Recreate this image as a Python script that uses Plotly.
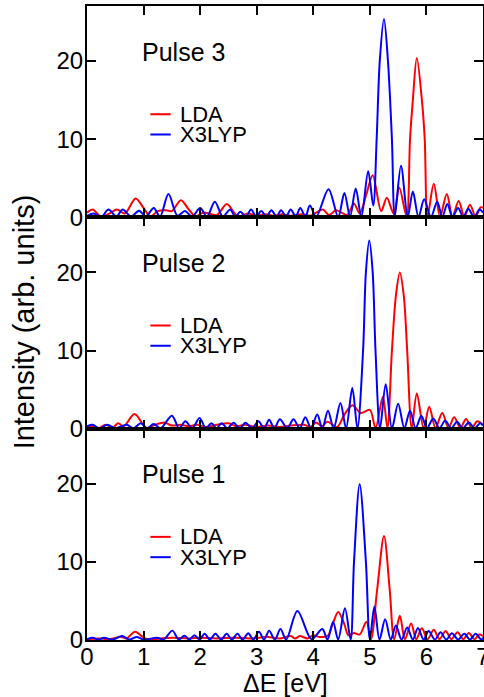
import plotly.graph_objects as go
from plotly.subplots import make_subplots

# ---------------- data ----------------
# Pulse 3 (top panel)
p3_lda_x = [0.0, 0.1, 0.25, 0.4, 0.53, 0.67, 0.86, 1.0, 1.12, 1.25, 1.4, 1.5, 1.66, 1.8, 1.92,
            2.05, 2.2, 2.3, 2.47, 2.6, 2.67, 2.85, 3.0, 3.15, 3.3, 3.45, 3.6, 3.8, 3.95, 4.05,
            4.17, 4.28, 4.4, 4.5, 4.6, 4.72, 4.82, 4.94, 5.05, 5.2, 5.3, 5.42, 5.52, 5.65,
            5.71, 5.76, 5.83, 5.92, 5.97, 6.02, 6.13, 6.24, 6.36, 6.46, 6.57, 6.67, 6.77,
            6.87, 6.96, 7.0]
p3_lda_y = [0.6, 1.0, 0.1, 0.5, 1.0, 0.5, 2.4, 1.2, 0.1, 0.8, 0.9, 0.8, 2.2, 1.0, 0.1,
            0.6, 0.4, 0.3, 1.7, 0.6, 0.1, 0.5, 0.2, 0.4, 0.2, 0.4, 0.2, 0.4, 0.2, 0.6,
            1.0, 0.3, 0.9, 0.6, 0.3, 1.75, 0.5, 3.0, 5.4, 0.8, 2.5, 0.5, 3.8, 0.1,
            10.0, 15.0, 20.4, 15.0, 10.0, 0.1, 4.3, 0.1, 3.0, 0.1, 2.1, 0.1, 1.6,
            0.1, 1.3, 1.2]
p3_x3lyp_x = [0.0, 0.12, 0.25, 0.38, 0.52, 0.63, 0.78, 0.92, 1.04, 1.18, 1.29, 1.44, 1.6, 1.73,
              1.86, 2.0, 2.12, 2.26, 2.4, 2.53, 2.62, 2.71, 2.81, 2.9, 2.99, 3.08, 3.17, 3.26,
              3.35, 3.43, 3.52, 3.6, 3.69, 3.77, 3.86, 3.94, 4.05, 4.27, 4.44, 4.55, 4.65,
              4.75, 4.85, 4.97, 5.06, 5.12, 5.175, 5.25, 5.32, 5.39, 5.44, 5.55, 5.67, 5.76,
              5.86, 5.96, 6.08, 6.19, 6.28, 6.37, 6.46, 6.56, 6.65, 6.74, 6.84, 6.94, 7.0]
p3_x3lyp_y = [0.2, 0.5, 0.05, 1.0, 0.1, 1.0, 0.1, 0.85, 0.1, 1.2, 0.1, 3.0, 0.2, 0.8,
              0.1, 1.2, 0.1, 2.0, 0.1, 1.0, 0.1, 0.7, 0.1, 1.0, 0.1, 0.8, 0.1, 0.9,
              0.1, 0.9, 0.1, 1.0, 0.1, 1.2, 0.1, 1.5, 0.05, 3.6, 0.05, 3.1, 0.05,
              3.7, 0.05, 5.9, 1.5, 10.0, 20.0, 25.4, 20.0, 10.0, 0.05, 6.6, 0.05, 3.3,
              0.05, 2.3, 0.05, 2.0, 0.05, 1.7, 0.05, 1.2, 0.05, 1.1, 0.05, 1.0, 0.6]

# Pulse 2 (middle panel)
p2_lda_x = [0.0, 0.1, 0.2, 0.33, 0.45, 0.55, 0.65, 0.84, 1.05, 1.2, 1.37, 1.5, 1.65, 1.8, 1.95,
            2.1, 2.3, 2.5, 2.65, 2.8, 3.0, 3.2, 3.4, 3.6, 3.84, 3.95, 4.05, 4.15, 4.25, 4.42,
            4.55, 4.69, 4.84, 5.0, 5.1, 5.23, 5.31, 5.39, 5.46, 5.53, 5.6, 5.66, 5.74, 5.83,
            5.95, 6.05, 6.16, 6.28, 6.39, 6.49, 6.6, 6.7, 6.8, 6.9, 7.0]
p2_lda_y = [0.2, 0.3, 0.05, 0.5, 0.1, 0.7, 0.3, 1.87, 0.1, 0.5, 0.8, 0.4, 0.5, 0.3, 0.5,
            0.2, 0.5, 0.7, 0.3, 0.5, 0.2, 0.4, 0.2, 0.4, 0.5, 0.2, 0.8, 0.3, 0.9, 0.2,
            1.8, 3.0, 2.0, 2.4, 0.1, 4.1, 0.1, 10.0, 17.0, 20.0, 17.0, 10.0, 0.1, 4.5,
            0.1, 2.8, 0.1, 2.0, 0.1, 1.45, 0.1, 1.25, 0.1, 0.95, 0.5]
p2_x3lyp_x = [0.0, 0.1, 0.22, 0.36, 0.5, 0.7, 0.82, 0.95, 1.06, 1.18, 1.3, 1.5, 1.63, 1.74, 1.86,
              1.99, 2.1, 2.2, 2.29, 2.38, 2.48, 2.59, 2.7, 2.8, 2.92, 3.03, 3.13, 3.22, 3.31,
              3.41, 3.54, 3.65, 3.76, 3.86, 3.96, 4.07, 4.16, 4.26, 4.36, 4.48, 4.58, 4.69,
              4.78, 4.88, 4.93, 4.99, 5.05, 5.1, 5.18, 5.28, 5.39, 5.5, 5.61, 5.71, 5.81,
              5.91, 6.01, 6.12, 6.23, 6.33, 6.44, 6.54, 6.64, 6.75, 6.85, 6.95, 7.0]
p2_x3lyp_y = [0.3, 0.5, 0.05, 0.5, 0.05, 0.5, 0.05, 0.7, 0.05, 0.6, 0.05, 1.66, 0.05, 0.95, 0.05,
              1.36, 0.05, 0.7, 0.05, 0.7, 0.05, 0.75, 0.05, 0.75, 0.05, 0.95, 0.05, 1.15, 0.05,
              1.2, 0.05, 1.2, 0.05, 1.45, 0.05, 1.8, 0.05, 2.3, 0.05, 3.3, 0.05, 5.2,
              0.05, 10.0, 20.0, 24.1, 20.0, 10.0, 0.05, 5.7, 0.05, 3.2, 0.05, 2.3, 0.05,
              1.65, 0.05, 1.3, 0.05, 1.0, 0.05, 0.9, 0.05, 0.8, 0.05, 0.7, 0.4]

# Pulse 1 (bottom panel)
p1_lda_x = [0.0, 0.2, 0.4, 0.6, 0.7, 0.85, 1.0, 1.1, 1.3, 1.5, 1.8, 2.0, 2.3, 2.6, 2.9, 3.2,
            3.4, 3.6, 3.68, 3.76, 3.9, 4.0, 4.1, 4.25, 4.35, 4.44, 4.55, 4.62, 4.72, 4.82,
            4.94, 5.02, 5.13, 5.25, 5.35, 5.43, 5.53, 5.62, 5.73, 5.82, 5.92, 6.02, 6.13,
            6.23, 6.34, 6.44, 6.55, 6.65, 6.75, 6.85, 6.93, 7.0]
p1_lda_y = [0.1, 0.2, 0.1, 0.4, 0.2, 1.07, 0.3, 0.05, 0.2, 0.3, 0.2, 0.3, 0.2, 0.3, 0.2, 0.4,
            0.2, 0.5, 0.2, 0.5, 0.2, 0.6, 0.4, 0.5, 2.2, 3.6, 2.0, 0.6, 0.9, 0.7,
            2.35, 0.1, 6.5, 13.3, 6.5, 0.1, 3.1, 0.1, 2.1, 0.1, 1.5, 0.1, 1.3,
            0.1, 1.15, 0.1, 1.0, 0.1, 0.9, 0.1, 0.7, 0.5]
p1_x3lyp_x = [0.0, 0.1, 0.2, 0.3, 0.45, 0.62, 0.75, 0.88, 1.0, 1.24, 1.35, 1.51, 1.62, 1.72,
              1.81, 1.9, 1.99, 2.08, 2.17, 2.27, 2.37, 2.47, 2.56, 2.66, 2.75, 2.85, 2.94,
              3.04, 3.13, 3.22, 3.32, 3.42, 3.52, 3.72, 3.97, 4.16, 4.25, 4.35, 4.44, 4.56,
              4.66, 4.72, 4.82, 4.93, 5.0, 5.08, 5.17, 5.27, 5.37, 5.46, 5.56, 5.66, 5.76,
              5.85, 5.95, 6.04, 6.15, 6.25, 6.35, 6.45, 6.56, 6.67, 6.77, 6.87, 6.97, 7.0]
p1_x3lyp_y = [0.1, 0.3, 0.05, 0.3, 0.05, 0.5, 0.05, 0.4, 0.05, 0.3, 0.05, 1.2, 0.05, 0.55,
              0.05, 0.6, 0.05, 0.8, 0.05, 0.8, 0.05, 0.8, 0.05, 0.8, 0.05, 0.85, 0.05,
              1.05, 0.05, 1.2, 0.05, 1.4, 0.05, 3.7, 0.1, 1.4, 0.05, 2.3, 0.05, 4.06,
              0.05, 10.0, 19.95, 10.0, 0.05, 4.3, 0.05, 2.65, 0.05, 1.85, 0.05, 1.6, 0.05,
              1.55, 0.05, 1.15, 0.05, 1.0, 0.05, 0.85, 0.05, 0.8, 0.05, 0.8, 0.05, 0.3]

panel_labels = ["Pulse 3", "Pulse 2", "Pulse 1"]
series_names = ["LDA", "X3LYP"]
x_ticks = [0, 1, 2, 3, 4, 5, 6, 7]
y_ticks = [0, 10, 20]

panels = [
    (p3_lda_x, p3_lda_y, p3_x3lyp_x, p3_x3lyp_y),
    (p2_lda_x, p2_lda_y, p2_x3lyp_x, p2_x3lyp_y),
    (p1_lda_x, p1_lda_y, p1_x3lyp_x, p1_x3lyp_y),
]

# ---------------- figure ----------------
FONT = "Liberation Sans, Arial, Helvetica, sans-serif"
RED = "#ff0000"
BLUE = "#0000ff"
colors = [RED, BLUE]

fig = make_subplots(rows=3, cols=1, vertical_spacing=0)

for i, (lx, ly, bx, by) in enumerate(panels):
    row = i + 1
    fig.add_trace(go.Scatter(x=lx, y=ly, mode="lines", name=series_names[0],
                             line=dict(color=RED, width=2, shape="spline", smoothing=0.9),
                             showlegend=False, hoverinfo="skip"), row=row, col=1)
    fig.add_trace(go.Scatter(x=bx, y=by, mode="lines", name=series_names[1],
                             line=dict(color=BLUE, width=2, shape="spline", smoothing=0.9),
                             showlegend=False, hoverinfo="skip"), row=row, col=1)

    xa = "x" if row == 1 else f"x{row}"
    ya = "y" if row == 1 else f"y{row}"
    # panel label
    fig.add_annotation(x=0.93, y=21.2, xref=xa, yref=ya, text=panel_labels[i],
                       showarrow=False, xanchor="left", yanchor="middle",
                       font=dict(family=FONT, size=25, color="black"))
    # legend (line sample + text)
    for k, (nm, yy) in enumerate(zip(series_names, [13.2, 10.6])):
        fig.add_shape(type="line", xref=xa, yref=ya, x0=1.12, x1=1.48, y0=yy, y1=yy,
                      line=dict(color=colors[k], width=2))
        fig.add_annotation(x=1.61, y=yy, xref=xa, yref=ya, text=nm, showarrow=False,
                           xanchor="left", yanchor="middle",
                           font=dict(family=FONT, size=22, color="black"))

    fig.update_xaxes(range=[0, 7], tickvals=x_ticks, ticks="inside", ticklen=9, tickwidth=2,
                     tickcolor="black", showline=True, linewidth=2, linecolor="black",
                     mirror="ticks", showgrid=False, zeroline=False, automargin=False,
                     showticklabels=(row == 3), ticklabeloverflow="allow",
                     ticklabelstandoff=-6,
                     tickfont=dict(family=FONT, size=24, color="black"),
                     row=row, col=1)
    fig.update_yaxes(range=[0, 27.05], tickvals=y_ticks, ticks="inside", ticklen=9, tickwidth=2,
                     tickcolor="black", showline=True, linewidth=2, linecolor="black",
                     mirror="ticks", showgrid=False, zeroline=False, automargin=False,
                     ticklabelstandoff=-3,
                     tickfont=dict(family=FONT, size=24, color="black"),
                     row=row, col=1)

fig.add_annotation(x=-0.16, y=0.502, xref="paper", yref="paper", text="Intensity (arb. units)",
                   textangle=-90, showarrow=False, xanchor="center", yanchor="middle",
                   font=dict(family=FONT, size=29, color="black"))
fig.add_annotation(x=0.5, y=-0.0673, xref="paper", yref="paper", text="\u0394E [eV]",
                   showarrow=False, xanchor="center", yanchor="middle",
                   font=dict(family=FONT, size=25, color="black"))

fig.update_layout(width=484, height=697, margin=dict(l=87, r=1, t=6, b=57, autoexpand=False),
                  plot_bgcolor="white", paper_bgcolor="white", showlegend=False,
                  font=dict(family=FONT, color="black"))

fig.write_html("out.html", config={"displayModeBar": False},
               post_script="document.body.style.margin='0';document.body.style.overflow='hidden';")
